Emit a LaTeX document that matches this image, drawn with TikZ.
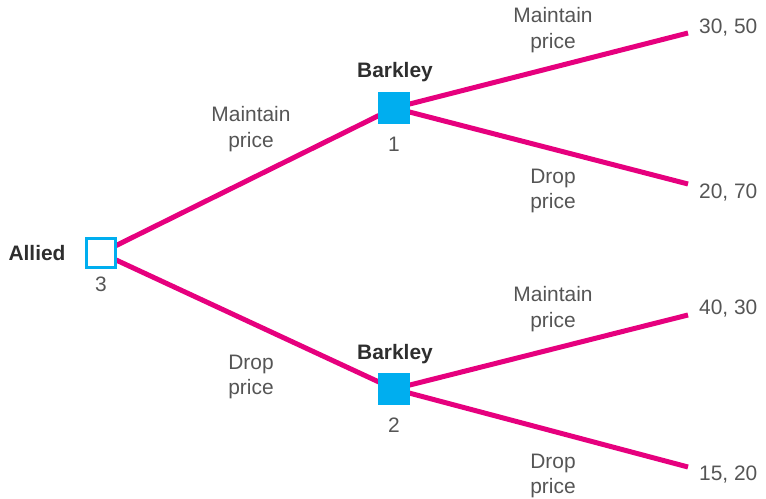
\documentclass[tikz,border=0pt]{standalone}
\usepackage{fontspec}
\setmainfont{Liberation Sans}
\definecolor{branch}{HTML}{E6007E}
\definecolor{nodeblue}{HTML}{00AEEF}
\definecolor{txt}{HTML}{555555}
\definecolor{btxt}{HTML}{2E2E2E}
\begin{document}
\begin{tikzpicture}[x=1bp,y=-1bp,
  branchline/.style={draw=branch,line width=5bp},
  decbox/.style={draw=nodeblue,line width=2.2bp,minimum size=29bp,inner sep=0pt},
  lbl/.style={text=txt,font=\fontsize{21}{25.5}\selectfont,align=center,inner sep=0pt},
  plabel/.style={text=btxt,font=\fontsize{21}{24}\selectfont\bfseries,inner sep=0pt},
  pay/.style={text=txt,font=\fontsize{21}{24}\selectfont,anchor=west,inner sep=0pt}]
\useasboundingbox (0,0) rectangle (766,499);
\coordinate (a) at (101,253);
\coordinate (b1) at (394,108);
\coordinate (b2) at (394,389);
\node[pay] (p1) at (699,28) {30, 50};
\node[pay] (p2) at (699,193) {20, 70};
\node[pay] (p3) at (699,309) {40, 30};
\node[pay] (p4) at (699,475) {15, 20};
\coordinate (e1) at (688,33);
\coordinate (e2) at (688,184);
\coordinate (e3) at (688,315);
\coordinate (e4) at (688,467);
\draw[branchline] (a) -- (b1);
\draw[branchline] (a) -- (b2);
\draw[branchline] (b1) -- (e1);
\draw[branchline] (b1) -- (e2);
\draw[branchline] (b2) -- (e3);
\draw[branchline] (b2) -- (e4);
\node[decbox,fill=white] (A) at (a) {};
\node[decbox,fill=nodeblue] (B1) at (b1) {};
\node[decbox,fill=nodeblue] (B2) at (b2) {};
\node[plabel] (la) at (37,253) {Allied};
\node[plabel] (lb1) at (395,72) {Barkley};
\node[plabel] (lb2) at (395,354) {Barkley};
\node[lbl] (n3) at (101,284) {3};
\node[lbl] (n1) at (394,144) {1};
\node[lbl] (n2) at (394,425) {2};
\node[lbl] (m1) at (251,129) {Maintain\\price};
\node[lbl] (d1) at (251,377) {Drop\\price};
\node[lbl] (m2) at (553,30) {Maintain\\price};
\node[lbl] (d2) at (553,191) {Drop\\price};
\node[lbl] (m3) at (553,309) {Maintain\\price};
\node[lbl] (d3) at (553,476) {Drop\\price};
\end{tikzpicture}
\end{document}
